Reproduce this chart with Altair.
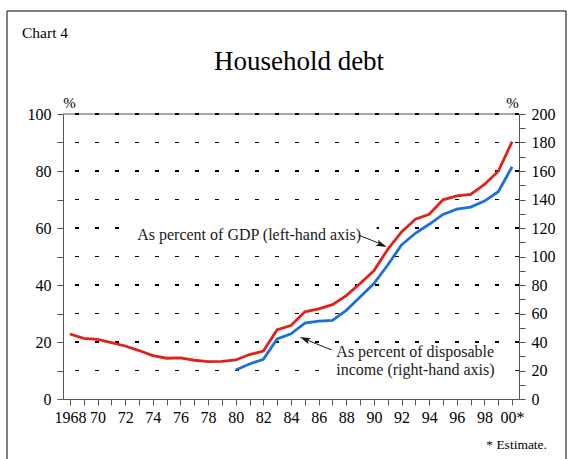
import altair as alt
import pandas as pd

# Household debt, per cent of GDP (left axis) and of disposable income (right axis)
years_gdp = list(range(1968, 2001))
debt_gdp = [22.8, 21.3, 20.9, 19.8, 18.6, 17.0, 15.2, 14.3, 14.4, 13.6,
            13.1, 13.2, 13.7, 15.6, 16.8, 24.3, 25.8, 30.6, 31.6, 33.1,
            36.3, 40.5, 45.0, 52.5, 58.6, 63.1, 64.8, 69.9, 71.3, 71.8,
            75.3, 79.9, 90.3]

years_income = list(range(1980, 2001))
debt_income = [20.4, 24.6, 27.8, 42.2, 45.8, 53.3, 54.7, 55.1, 62.2, 71.5,
               81.0, 94.0, 108.1, 116.3, 122.6, 129.5, 133.2, 134.7, 138.9,
               145.5, 163.0]

grid_minor = [10, 30, 50, 70, 90]
grid_major = [20, 40, 60, 80, 100]
x_ticks = list(range(1968, 2001))
left_ticks = list(range(0, 101, 10))
right_ticks = list(range(0, 201, 10))

# Annotation anchors in data units (year, left-axis %)
label_gdp = "As percent of GDP (left-hand axis)"
label_income = ["As percent of disposable", "income (right-hand axis)"]
label_gdp_pos = (1972.87, 57.5)
label_income_pos = [(1987.28, 16.6), (1987.28, 10.2)]
# white boxes behind the labels so the dashed grid does not run through them
label_boxes = [(1972.41, 60.7, 1990.2, 54.4), (1987.02, 13.0, 1999.24, 7.0)]
arrow_lines = [(1988.9, 57.5, 1990.75, 53.9), (1986.94, 17.2, 1984.9, 21.2)]
arrow_heads = [(1990.56, 54.1, 113), (1985.0, 21.0, 292)]

SERIF = "Liberation Serif"
RED = "#dd231c"
BLUE = "#1c70dc"
AXIS_GREY = "#555555"
W, H = 456, 285
LEFT, TOP = 63, 114
TICK_FONT = 16

x_scale = alt.Scale(domain=[1967.5, 2000.5], nice=False, zero=False)
x_axis = alt.Axis(
    values=x_ticks,
    labelExpr="datum.value == 1968 ? '1968' : datum.value == 2000 ? '00*' : "
              "(datum.value % 2 == 0 ? '' + (datum.value % 100) : '')",
    labelFlush=False, labelOverlap=False, grid=False,
    tickSize=6, tickColor=AXIS_GREY, domainColor=AXIS_GREY,
    labelFont=SERIF, labelFontSize=TICK_FONT, labelColor="black", labelPadding=4,
    title=None,
)
left_axis = alt.Axis(
    values=left_ticks, labelExpr="datum.value % 20 == 0 ? datum.label : ''",
    labelOverlap=False, labelFlush=False, grid=False,
    tickSize=6, tickColor=AXIS_GREY, domainColor=AXIS_GREY,
    labelFont=SERIF, labelFontSize=TICK_FONT, labelColor="black", labelPadding=6,
    title="%", titleAngle=0, titleFont=SERIF, titleFontSize=15,
    titleFontWeight="normal", titleColor="black", titleX=6, titleY=-12,
    titleAlign="center", titleBaseline="middle",
)
right_axis = alt.Axis(
    orient="right", values=right_ticks,
    labelExpr="datum.value % 20 == 0 ? datum.label : ''",
    labelOverlap=False, labelFlush=False, grid=False,
    tickSize=6, tickColor=AXIS_GREY, domainColor=AXIS_GREY,
    labelFont=SERIF, labelFontSize=TICK_FONT, labelColor="black", labelPadding=6,
    title="%", titleAngle=0, titleFont=SERIF, titleFontSize=15,
    titleFontWeight="normal", titleColor="black", titleX=-7, titleY=-12,
    titleAlign="center", titleBaseline="middle",
)

X = alt.X("yr:Q", scale=x_scale, axis=x_axis)
Y_LEFT = alt.Y("v:Q", scale=alt.Scale(domain=[0, 100], nice=False), axis=left_axis)
Y_RIGHT = alt.Y("w:Q", scale=alt.Scale(domain=[0, 200], nice=False), axis=right_axis)

gdp_df = pd.DataFrame({"yr": years_gdp, "v": debt_gdp})
income_df = pd.DataFrame({"yr": years_income, "w": debt_income})

top_line = alt.Chart(pd.DataFrame({"v": [100]})).mark_rule(
    color="#8a8a8a", strokeWidth=1.5).encode(y=Y_LEFT)
grid_thin = alt.Chart(pd.DataFrame({"v": grid_minor})).mark_rule(
    color="black", strokeWidth=1, strokeDash=[4, 16]).encode(y=Y_LEFT)
grid_thick = alt.Chart(pd.DataFrame({"v": grid_major})).mark_rule(
    color="black", strokeWidth=2.2, strokeDash=[4, 16]).encode(y=Y_LEFT)

box_df = pd.DataFrame(label_boxes, columns=["yr", "v", "yr2", "v2"])
label_bg = alt.Chart(box_df).mark_rect(color="white", opacity=1).encode(
    x=X, y=Y_LEFT, x2="yr2:Q", y2="v2:Q")

gdp_line = alt.Chart(gdp_df).mark_line(color=RED, strokeWidth=2.8).encode(x=X, y=Y_LEFT)

ann_text = alt.Chart(pd.DataFrame({
    "yr": [label_gdp_pos[0]] + [p[0] for p in label_income_pos],
    "v": [label_gdp_pos[1]] + [p[1] for p in label_income_pos],
    "t": [label_gdp] + label_income,
})).mark_text(align="left", baseline="middle", font=SERIF, fontSize=16,
              color="#1a1a1a").encode(x=X, y=Y_LEFT, text="t:N")

arrow_df = pd.DataFrame(arrow_lines, columns=["yr", "v", "yr2", "v2"])
arrow_rule = alt.Chart(arrow_df).mark_rule(color="#1a1a1a", strokeWidth=1).encode(
    x=X, y=Y_LEFT, x2="yr2:Q", y2="v2:Q")
head_df = pd.DataFrame(arrow_heads, columns=["yr", "v", "ang"])
arrow_head = alt.Chart(head_df).mark_point(
    shape="M0,-1L0.6,1L0,0.55L-0.6,1Z", filled=True, size=120,
    color="#1a1a1a", opacity=1).encode(x=X, y=Y_LEFT, angle=alt.Angle("ang:Q", scale=None))

left_group = alt.layer(top_line, grid_thin, grid_thick, label_bg, gdp_line,
                       arrow_rule, arrow_head, ann_text)

income_line = alt.Chart(income_df).mark_line(color=BLUE, strokeWidth=2.8).encode(
    x=X, y=Y_RIGHT)


def label(text, px, py, size, align="left"):
    return alt.Chart(pd.DataFrame({"t": [text]})).mark_text(
        align=align, baseline="middle", font=SERIF, fontSize=size, color="black"
    ).encode(x=alt.value(px - LEFT), y=alt.value(py - TOP), text="t:N")


chart_no = label("Chart 4", 22, 32.5, 15.5)
heading = label("Household debt", 299, 62, 27, align="center")
footnote = label("* Estimate.", 547, 445, 13.5, align="right")

frame = alt.Chart(pd.DataFrame({"k": [0]})).mark_rect(
    filled=False, stroke="black", strokeWidth=1).encode(
    x=alt.value(7 - LEFT), x2=alt.value(566 - LEFT),
    y=alt.value(11 - TOP), y2=alt.value(480 - TOP))

chart = alt.layer(
    left_group, income_line, chart_no, heading, footnote, frame
).resolve_scale(y="independent").properties(
    width=W, height=H,
    autosize=alt.AutoSizeParams(type="none"),
    padding={"left": LEFT, "top": TOP, "right": 572 - LEFT - W, "bottom": 459 - TOP - H},
    background="white",
).configure_view(strokeWidth=0)

chart.save("out.html", embed_options={"renderer": "svg", "actions": False})
